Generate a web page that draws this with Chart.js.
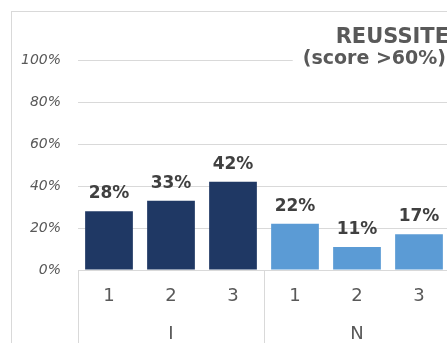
<!DOCTYPE html>
<html>
<head>
<meta charset="utf-8">
<script src="https://cdn.jsdelivr.net/npm/chart.js@4.4.0/dist/chart.umd.min.js"></script>
<style>
    body { margin: 0; overflow: hidden; background: #fff; }
    #frame { position: absolute; left: 11px; top: 11px; width: 1000px; height: 1000px;
             border-left: 1px solid #d9d9d9; border-top: 1px solid #d9d9d9; }
    #wrap { position: absolute; left: 0; top: 0; width: 460px; height: 343px; }
</style>
</head>
<body>
<div id="frame"></div>
<div id="wrap"><canvas id="myChart" width="460" height="343"></canvas></div>
<script>
let levels = ["1", "2", "3", "1", "2", "3"]
let groups = ["I", "N"]
let success = [28, 33, 42, 22, 11, 17]
let yTicks = [0, 20, 40, 60, 80, 100]
let titleLines = ["REUSSITE", "(score >60%)"]

let navy = "#1f3864"
let lightBlue = "#5b9bd5"
let grey = "#d9d9d9"
let textGrey = "#595959"

let barColors = levels.map((l, i) => i < 3 ? navy : lightBlue)

// value labels on top of each bar
let valueLabels = {
    id: "valueLabels",
    afterDatasetsDraw(chart) {
        let ctx = chart.ctx
        let meta = chart.getDatasetMeta(0)
        ctx.save()
        ctx.font = "bold 17px 'DejaVu Sans'"
        ctx.fillStyle = "#404040"
        ctx.textAlign = "center"
        ctx.textBaseline = "alphabetic"
        meta.data.forEach((bar, i) => {
            ctx.fillText(success[i] + "%", bar.x, bar.y - 13)
        })
        ctx.restore()
    }
}

// vertical lines that split the two groups under the axis
let groupLines = {
    id: "groupLines",
    afterDraw(chart) {
        let ctx = chart.ctx
        let x = chart.scales.x
        let area = chart.chartArea
        let mid = (x.getPixelForValue(2) + x.getPixelForValue(3)) / 2
        ctx.save()
        ctx.strokeStyle = grey
        ctx.lineWidth = 1
        ;[area.left, mid, area.right].forEach(px => {
            let p = Math.round(px) + 0.5
            ctx.beginPath()
            ctx.moveTo(p, area.bottom)
            ctx.lineTo(p, chart.height)
            ctx.stroke()
        })
        ctx.restore()
    }
}

// two line title in the top right corner, sitting over the top gridline
let cornerTitle = {
    id: "cornerTitle",
    afterDraw(chart) {
        let ctx = chart.ctx
        ctx.save()
        ctx.font = "bold 19px 'DejaVu Sans'"
        let w = ctx.measureText(titleLines[1]).width
        ctx.fillStyle = "#fff"
        ctx.fillRect(446 - w - 10, 48, w + 20, 22)
        ctx.fillStyle = textGrey
        ctx.textAlign = "right"
        ctx.textBaseline = "alphabetic"
        ctx.fillText(titleLines[1], 446, 64)
        ctx.font = "bold 21px 'DejaVu Sans'"
        ctx.fillText(titleLines[0], 449, 43)
        ctx.restore()
    }
}

let chartObject = new Chart(document.getElementById("myChart"), {
    type: "bar",
    data: {
        labels: levels,
        datasets: [{
            data: success,
            backgroundColor: barColors,
            borderWidth: 0,
            barPercentage: 0.77,
            categoryPercentage: 1
        }]
    },
    options: {
        responsive: false,
        animation: false,
        layout: { padding: { top: 60, right: 10, bottom: 0, left: 0 } },
        plugins: {
            legend: { display: false },
            tooltip: { enabled: false }
        },
        scales: {
            y: {
                min: 0,
                max: 100,
                afterFit(scale) { scale.width = 78 },
                afterBuildTicks(scale) { scale.ticks = yTicks.map(v => ({ value: v })) },
                grid: { color: grey, drawTicks: false },
                border: { display: false },
                ticks: {
                    padding: 17,
                    color: textGrey,
                    font: { family: "DejaVu Sans", size: 14, style: "italic" },
                    callback: v => v + "%"
                }
            },
            x: {
                afterFit(scale) { scale.height = 43 },
                grid: { display: false },
                border: { display: false },
                ticks: {
                    padding: 8,
                    color: textGrey,
                    font: { family: "DejaVu Sans", size: 18 }
                }
            },
            x2: {
                type: "category",
                position: "bottom",
                labels: groups,
                afterFit(scale) { scale.height = 30 },
                grid: { display: false },
                border: { display: false },
                ticks: {
                    padding: 3,
                    color: textGrey,
                    font: { family: "DejaVu Sans", size: 18 }
                }
            }
        }
    },
    plugins: [valueLabels, groupLines, cornerTitle]
})
</script>
</body>
</html>
